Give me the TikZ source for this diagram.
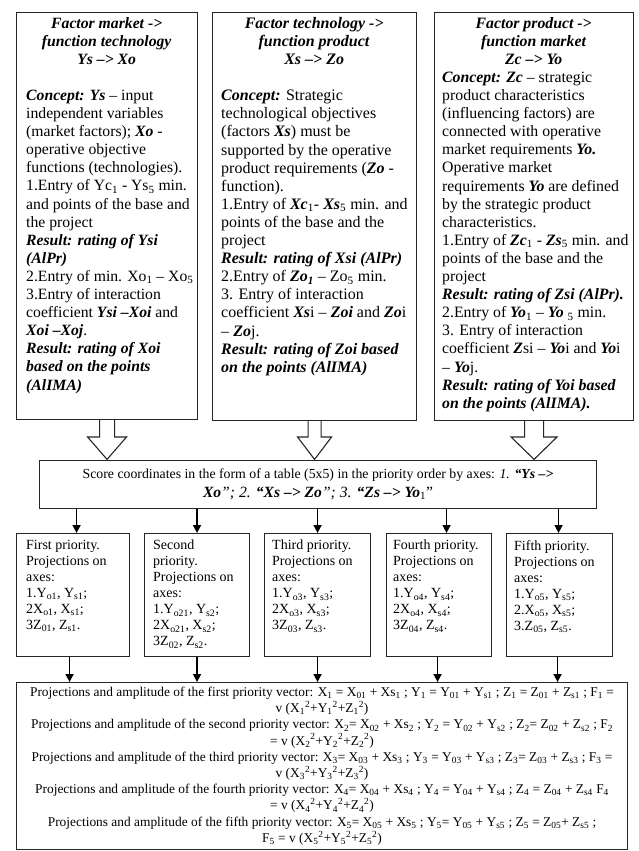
\documentclass[tikz,border=0pt]{standalone}
\usepackage{fontspec}
\setmainfont{Liberation Serif}
\usetikzlibrary{arrows.meta,calc}
\newcommand{\bi}[1]{\textbf{\textit{#1}}}
\newcommand{\sbs}[1]{\textsubscript{#1}}
\newcommand{\sqx}[1]{\textsubscript{#1}\textsuperscript{2}}
\begin{document}
\begin{tikzpicture}[x=1pt,y=-1pt,
  frame/.style={draw=black!85, line width=1.1pt, inner sep=0pt, anchor=north west},
  toptext/.style={inner sep=0pt, anchor=north west, align=left},
  prtext/.style={inner sep=0pt, anchor=north west, align=left, font=\fontsize{14}{16}\selectfont},
  fat/.style={draw=black!85, line width=1.1pt, fill=white, line join=miter},
  thinarr/.style={draw=black, line width=1.6pt, -{Triangle[length=8pt,width=8pt]}}
]
\useasboundingbox (0,0) rectangle (639,851);

% top boxes
\node[frame, minimum width=181pt, minimum height=407pt] (b1) at (16,12) {};
\node[frame, minimum width=204pt, minimum height=408pt] (b2) at (212,12) {};
\node[frame, minimum width=199pt, minimum height=408pt] (b3) at (434,12) {};

\node[toptext, font=\fontsize{15.7}{18.1}\selectfont] (t1) at ($(b1.north west)+(10pt,-5pt)$) {%
\makebox[161pt]{\bi{Factor market ->}}\\
\makebox[161pt]{\bi{function technology}}\\
\makebox[161pt]{\bi{Ys –> Xo}}\\
\strut\\
\bi{Concept:} \bi{Ys} – input\\
independent variables\\
(market factors); \bi{Xo} -\\
operative objective\\
functions (technologies).\\
1.Entry of Yc\sbs{1} - Ys\sbs{5} min.\\
and points of the base and\\
the project\\
\bi{Result: rating of Ysi}\\
\bi{(AlPr)}\\
2.Entry of min. Xo\sbs{1} – Xo\sbs{5}\\
3.Entry of interaction\\
coefficient \bi{Ysi –Xoi} and\\
\bi{Xoi –Xoj}.\\
\bi{Result: rating of Xoi}\\
\bi{based on the points}\\
\bi{(AlIMA)}};

\node[toptext, font=\fontsize{16}{18.1}\selectfont] (t2) at ($(b2.north west)+(9pt,-5pt)$) {%
\makebox[186pt]{\bi{Factor technology ->}}\\
\makebox[186pt]{\bi{function product}}\\
\makebox[186pt]{\bi{Xs –> Zo}}\\
\strut\\
\bi{Concept:} Strategic\\
technological objectives\\
(factors \bi{Xs}) must be\\
supported by the operative\\
product requirements (\bi{Zo} -\\
function).\\
1.Entry of \bi{Xc}\sbs{1}- \bi{Xs}\sbs{5} min. and\\
points of the base and the\\
project\\
\bi{Result: rating of Xsi (AlPr)}\\
2.Entry of \bi{Zo\sbs{1}} – Zo\sbs{5} min.\\
3. Entry of interaction\\
coefficient \bi{Xs}i – \bi{Zoi} and \bi{Zo}i\\
– \bi{Zo}j.\\
\bi{Result: rating of Zoi based}\\
\bi{on the points (AlIMA)}};

\node[toptext, font=\fontsize{15.8}{18.1}\selectfont] (t3) at ($(b3.north west)+(8pt,-5pt)$) {%
\makebox[183pt]{\bi{Factor product ->}}\\
\makebox[183pt]{\bi{function market}}\\
\makebox[183pt]{\bi{Zc –> Yo}}\\
\bi{Concept:} \bi{Zc} – strategic\\
product characteristics\\
(influencing factors) are\\
connected with operative\\
market requirements \bi{Yo.}\\
Operative market\\
requirements \bi{Yo} are defined\\
by the strategic product\\
characteristics.\\
1.Entry of \bi{Zc}\sbs{1} - \bi{Zs}\sbs{5} min. and\\
points of the base and the\\
project\\
\bi{Result: rating of Zsi (AlPr).}\\
2.Entry of \bi{Yo}\sbs{1} – \bi{Yo} \sbs{5} min.\\
3. Entry of interaction\\
coefficient \bi{Z}si – \bi{Yo}i and \bi{Yo}i\\
– \bi{Yo}j.\\
\bi{Result: rating of Yoi based}\\
\bi{on the points (AlIMA).}};

% score box
\node[frame, minimum width=557pt, minimum height=48pt, align=center,
      font=\fontsize{13.8}{19}\selectfont] (score) at (39,460) {%
Score coordinates in the form of a table (5x5) in the priority order by axes: \textit{1.} \bi{“Ys –>}\\
{\fontsize{15.6}{19}\selectfont\bi{Xo}\textit{”; 2.} \bi{“Xs –> Zo}\textit{”; 3.} \bi{“Zs –> Yo}\sbs{1}”}};

% fat arrows
\foreach \b/\sw/\hw in {b1/7.5/19.5, b2/6.5/17, b3/9.5/23}{
  \draw[fat] ($(\b.south)+(-\sw pt,0)$) -- ($(\b.south |- score.north)+(-\sw pt,23pt)$)
    -- ($(\b.south |- score.north)+(-\hw pt,23pt)$) -- ($(\b.south |- score.north)+(0,0.6pt)$)
    -- ($(\b.south |- score.north)+(\hw pt,23pt)$) -- ($(\b.south |- score.north)+(\sw pt,23pt)$)
    -- ($(\b.south)+(\sw pt,0)$);
}

% priority boxes
\node[frame, minimum width=113pt, minimum height=123pt] (p1) at (16,533) {};
\node[frame, minimum width=105pt, minimum height=123pt] (p2) at (144,533) {};
\node[frame, minimum width=106pt, minimum height=123pt] (p3) at (264,533) {};
\node[frame, minimum width=105pt, minimum height=123pt] (p4) at (386,533) {};
\node[frame, minimum width=106pt, minimum height=123pt] (p5) at (506,533) {};

\node[prtext] (q1) at ($(p1.north west)+(10pt,-7pt)$) {First priority.\\ Projections on\\ axes:\\ 1.Y\sbs{o1}, Y\sbs{s1};\\ 2X\sbs{o1}, X\sbs{s1};\\ 3Z\sbs{01}, Z\sbs{s1}.};
\node[prtext] (q2) at ($(p2.north west)+(9pt,-7pt)$) {Second\\ priority.\\ Projections on\\ axes:\\ 1.Y\sbs{o21}, Y\sbs{s2};\\ 2X\sbs{o21}, X\sbs{s2};\\ 3Z\sbs{02}, Z\sbs{s2}.};
\node[prtext] (q3) at ($(p3.north west)+(8pt,-7pt)$) {Third priority.\\ Projections on\\ axes:\\ 1.Y\sbs{o3}, Y\sbs{s3};\\ 2X\sbs{o3}, X\sbs{s3};\\ 3Z\sbs{03}, Z\sbs{s3}.};
\node[prtext] (q4) at ($(p4.north west)+(7pt,-7pt)$) {Fourth priority.\\ Projections on\\ axes:\\ 1.Y\sbs{o4}, Y\sbs{s4};\\ 2X\sbs{o4}, X\sbs{s4};\\ 3Z\sbs{04}, Z\sbs{s4}.};
\node[prtext] (q5) at ($(p5.north west)+(8pt,-7pt)$) {Fifth priority.\\ Projections on\\ axes:\\ 1.Y\sbs{o5}, Y\sbs{s5};\\ 2.X\sbs{o5}, X\sbs{s5};\\ 3.Z\sbs{05}, Z\sbs{s5}.};

% bottom box
\node[frame, minimum width=611pt, minimum height=167pt, align=center,
      font=\fontsize{13.4}{16.2}\selectfont] (bot) at (16,682) {%
Projections and amplitude of the first priority vector: X\sbs{1} = X\sbs{01} + Xs\sbs{1} ; Y\sbs{1} = Y\sbs{01} + Y\sbs{s1} ; Z\sbs{1} = Z\sbs{01} + Z\sbs{s1} ; F\sbs{1} =\\
v (X\sqx{1}+Y\sqx{1}+Z\sqx{1})\\
Projections and amplitude of the second priority vector: X\sbs{2}= X\sbs{02} + Xs\sbs{2} ; Y\sbs{2} = Y\sbs{02} + Y\sbs{s2} ; Z\sbs{2}= Z\sbs{02} + Z\sbs{s2} ; F\sbs{2}\\
= v (X\sqx{2}+Y\sqx{2}+Z\sqx{2})\\
Projections and amplitude of the third priority vector: X\sbs{3}= X\sbs{03} + Xs\sbs{3} ; Y\sbs{3} = Y\sbs{03} + Y\sbs{s3} ; Z\sbs{3}= Z\sbs{03} + Z\sbs{s3} ; F\sbs{3} =\\
v (X\sqx{3}+Y\sqx{3}+Z\sqx{3})\\
Projections and amplitude of the fourth priority vector: X\sbs{4}= X\sbs{04} + Xs\sbs{4} ; Y\sbs{4} = Y\sbs{04} + Y\sbs{s4} ; Z\sbs{4} = Z\sbs{04} + Z\sbs{s4} F\sbs{4}\\
= v (X\sqx{4}+Y\sqx{4}+Z\sqx{4})\\
Projections and amplitude of the fifth priority vector: X\sbs{5}= X\sbs{05} + Xs\sbs{5} ; Y\sbs{5}= Y\sbs{05} + Y\sbs{s5} ; Z\sbs{5} = Z\sbs{05}+ Z\sbs{s5} ;\\
F\sbs{5} = v (X\sqx{5}+Y\sqx{5}+Z\sqx{5})};

% thin arrows: score -> priority boxes
\draw[thinarr] ($(p1.north |- score.south)+(3.5pt,0)$) -- ($(p1.north)+(3.5pt,0)$);
\draw[thinarr] (p2.north |- score.south) -- (p2.north);
\draw[thinarr] (p3.north |- score.south) -- (p3.north);
\draw[thinarr] ($(p4.north |- score.south)+(7.5pt,0)$) -- ($(p4.north)+(7.5pt,0)$);
\draw[thinarr] ($(p5.north |- score.south)+(-1pt,0)$) -- ($(p5.north)+(-1pt,0)$);

% thin arrows: priority boxes -> bottom box
\draw[thinarr] ($(p1.south)+(-3.5pt,0)$) -- ($(p1.south |- bot.north)+(-3.5pt,0)$);
\draw[thinarr] (p2.south) -- (p2.south |- bot.north);
\draw[thinarr] (p3.south) -- (p3.south |- bot.north);
\draw[thinarr] ($(p4.south)+(-1.5pt,0)$) -- ($(p4.south |- bot.north)+(-1.5pt,0)$);
\draw[thinarr] ($(p5.south)+(-2pt,0)$) -- ($(p5.south |- bot.north)+(-2pt,0)$);
\end{tikzpicture}
\end{document}
